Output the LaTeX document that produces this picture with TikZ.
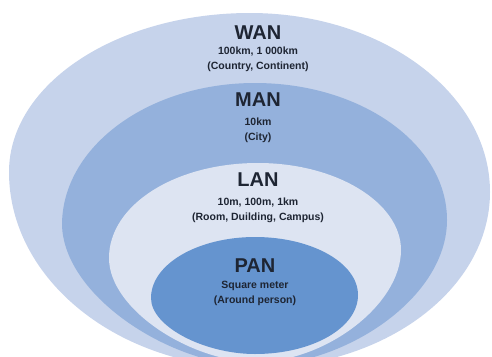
\documentclass[tikz,border=0pt]{standalone}
\usepackage{fontspec}
\setmainfont{Liberation Sans}
\usetikzlibrary{positioning}
\definecolor{wancol}{HTML}{C6D3EB}
\definecolor{mancol}{HTML}{94B1DC}
\definecolor{lancol}{HTML}{DDE4F2}
\definecolor{pancol}{HTML}{6594CF}
\definecolor{textcol}{HTML}{1E2533}

\begin{document}
\begin{tikzpicture}[x=1pt,y=-1pt,
  title/.style={font=\bfseries\fontsize{20}{20}\selectfont, text=textcol, inner sep=0pt},
  info/.style={font=\bfseries\fontsize{10.5}{15}\selectfont, text=textcol, align=center, inner sep=0pt}]
\useasboundingbox (0,0) rectangle (492,356);
\clip (0,0) rectangle (492,356);

% areas, outer to inner
\fill[wancol] (9,172) .. controls (9,84) and (117,13) .. (250,13)
  .. controls (382,13) and (490,93) .. (490,192)
  .. controls (490,289) and (385,368) .. (255,368)
  .. controls (119,368) and (9,280) .. (9,172) -- cycle;
\fill[mancol] (62,225) .. controls (62,147) and (148,83) .. (255,83)
  .. controls (361,83) and (447,144) .. (447,220)
  .. controls (447,298) and (345,366) .. (255,366)
  .. controls (172,366) and (64,297) .. (62,225) -- cycle;
\fill[lancol] (109,258) .. controls (109,205) and (175,163) .. (258,163)
  .. controls (337,163) and (401,203) .. (401,250)
  .. controls (401,305) and (325,362) .. (256,362)
  .. controls (192,362) and (109,310) .. (109,258) -- cycle;
\fill[pancol] (151,298) .. controls (151,264) and (198,237) .. (255,237)
  .. controls (312,237) and (358,263) .. (358,295)
  .. controls (358,328) and (312,354) .. (255,354)
  .. controls (205,354) and (151,327) .. (151,298) -- cycle;

% labels
\node[title] (wan) at (258,33) {WAN};
\node[info] (wanrange) at (258,59) {100km, 1 000km\\(Country, Continent)};
\node[title] (man) at (258,100) {MAN};
\node[info] (manrange) at (258,130) {10km\\(City)};
\node[title] (lan) at (258,180) {LAN};
\node[info] (lanrange) at (258,210.5) {10m, 100m, 1km\\(Room, Duilding, Campus)};
\node[title] (pan) at (255,266) {PAN};
\node[info] (panrange) at (255,293) {Square meter\\(Around person)};
\end{tikzpicture}
\end{document}
